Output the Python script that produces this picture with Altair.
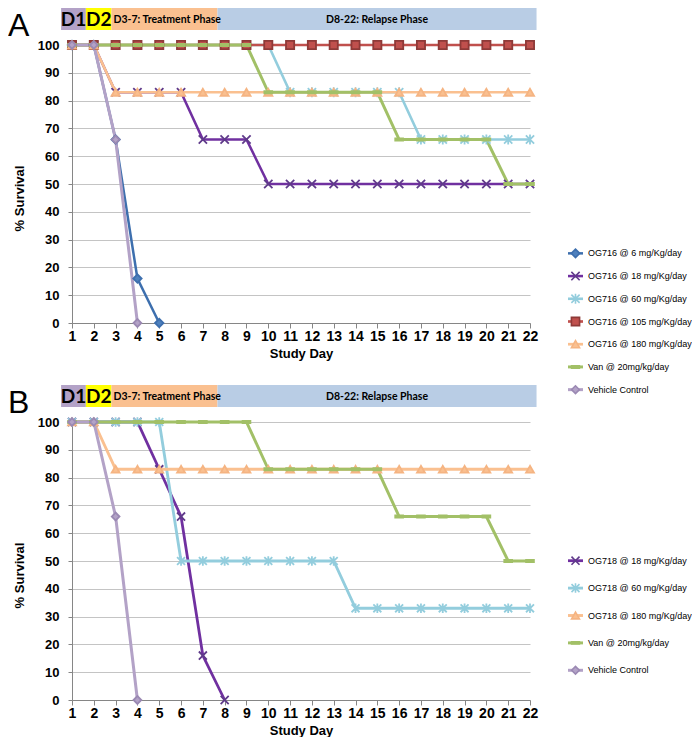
import altair as alt
import pandas as pd

# ---------------- data ----------------
days = [1, 2, 3, 4, 5, 6, 7, 8, 9, 10, 11, 12, 13, 14, 15, 16, 17, 18, 19, 20, 21, 22]

a_names = ["OG716 @ 6 mg/Kg/day", "OG716 @ 18 mg/Kg/day", "OG716 @ 60 mg/Kg/day",
           "OG716 @ 105 mg/Kg/day", "OG716 @ 180 mg/Kg/day", "Van @  20mg/kg/day",
           "Vehicle Control"]
a_6 = [100, 100, 66, 16, 0]
a_18 = [100, 100, 83, 83, 83, 83, 66, 66, 66, 50, 50, 50, 50, 50, 50, 50, 50, 50, 50, 50, 50, 50]
a_60 = [100, 100, 100, 100, 100, 100, 100, 100, 100, 100, 83, 83, 83, 83, 83, 83, 66, 66, 66, 66, 66, 66]
a_105 = [100, 100, 100, 100, 100, 100, 100, 100, 100, 100, 100, 100, 100, 100, 100, 100, 100, 100, 100, 100, 100, 100]
a_180 = [100, 100, 83, 83, 83, 83, 83, 83, 83, 83, 83, 83, 83, 83, 83, 83, 83, 83, 83, 83, 83, 83]
a_van = [100, 100, 100, 100, 100, 100, 100, 100, 100, 83, 83, 83, 83, 83, 83, 66, 66, 66, 66, 66, 50, 50]
a_veh = [100, 100, 66, 0]

b_names = ["OG718 @ 18 mg/Kg/day", "OG718 @ 60 mg/Kg/day", "OG718 @ 180 mg/Kg/day",
           "Van @  20mg/kg/day", "Vehicle Control"]
b_18 = [100, 100, 100, 100, 83, 66, 16, 0]
b_60 = [100, 100, 100, 100, 100, 50, 50, 50, 50, 50, 50, 50, 50, 33, 33, 33, 33, 33, 33, 33, 33, 33]
b_180 = [100, 100, 83, 83, 83, 83, 83, 83, 83, 83, 83, 83, 83, 83, 83, 83, 83, 83, 83, 83, 83, 83]
b_van = [100, 100, 100, 100, 100, 100, 100, 100, 100, 83, 83, 83, 83, 83, 83, 66, 66, 66, 66, 66, 50, 50]
b_veh = [100, 100, 66, 0]

phase_labels = ["D1", "D2", "D3-7: Treatment Phase", "D8-22: Relapse Phase"]
phase_start = [0.5, 1.635, 2.81, 7.67]
phase_end = [1.635, 2.81, 7.67, 22.3]

# ---------------- styles ----------------
style = {
    # name: (line colour, line width, shape, marker fill, marker stroke, marker size)
    "OG716 @ 6 mg/Kg/day": ("#3d6fae", 2.5, "diamond", "#4f81bd", "#3d6fae", 70),
    "OG716 @ 18 mg/Kg/day": ("#7030a0", 3, "M-1,-1L1,1M-1,1L1,-1", "transparent", "#5f3a8a", 60),
    "OG716 @ 60 mg/Kg/day": ("#93cddd", 3, "M-1,-1L1,1M-1,1L1,-1M0,-1.2L0,1.2", "transparent", "#93cddd", 64),
    "OG716 @ 105 mg/Kg/day": ("#c0504d", 1.5, "square", "#c0504d", "#8e3a38", 70),
    "OG716 @ 180 mg/Kg/day": ("#fac090", 3, "triangle-up", "#fac090", "#f5b482", 95),
    "OG718 @ 18 mg/Kg/day": ("#7030a0", 3, "M-1,-1L1,1M-1,1L1,-1", "transparent", "#5f3a8a", 60),
    "OG718 @ 60 mg/Kg/day": ("#93cddd", 3, "M-1,-1L1,1M-1,1L1,-1M0,-1.2L0,1.2", "transparent", "#93cddd", 64),
    "OG718 @ 180 mg/Kg/day": ("#fac090", 3, "triangle-up", "#fac090", "#f5b482", 95),
    "Van @  20mg/kg/day": ("#a2c067", 3, "M-1,-0.3H1V0.3H-1Z", "#a2c067", "#a2c067", 90),
    "Vehicle Control": ("#b3a2c7", 2.5, "diamond", "#b3a2c7", "#9b89b3", 70),
}
phase_colors = ["#b3a2c7", "#ffff00", "#fac090", "#b9cde5"]

all_names = list(style.keys())
color_dom = all_names + phase_labels
color_rng = [style[n][0] for n in all_names] + phase_colors

color_scale = alt.Scale(domain=color_dom, range=color_rng)
sw_scale = alt.Scale(domain=all_names, range=[style[n][1] for n in all_names])
shape_scale = alt.Scale(domain=all_names, range=[style[n][2] for n in all_names])
fill_scale = alt.Scale(domain=all_names, range=[style[n][3] for n in all_names])
stroke_scale = alt.Scale(domain=all_names, range=[style[n][4] for n in all_names])
size_scale = alt.Scale(domain=all_names, range=[style[n][5] for n in all_names])

FONT = "Liberation Sans"
W, H = 458, 278


def make_df(names, lists):
    rows = []
    for k, (n, vals) in enumerate(zip(names, lists)):
        for d, v in zip(days, vals):
            rows.append({"series": n, "k": k, "day": d, "value": v})
    return pd.DataFrame(rows)


x_axis = alt.Axis(values=days, title="Study Day", grid=False, labelFont=FONT, labelFontSize=14,
                  labelFontWeight="bold", labelColor="black", labelPadding=1, labelFlush=False,
                  tickSize=5, tickColor="#868686", domainColor="#868686",
                  titleFont=FONT, titleFontSize=13, titleFontWeight="bold", titleColor="black",
                  titlePadding=4)
y_axis = alt.Axis(values=[0, 10, 20, 30, 40, 50, 60, 70, 80, 90, 100], title="% Survival",
                  grid=True, gridColor="#c4c4c4", gridWidth=1,
                  labelFont=FONT, labelFontSize=13, labelFontWeight="bold", labelColor="black",
                  labelPadding=9, tickSize=4, tickColor="#868686", domainColor="#868686",
                  titleFont=FONT, titleFontSize=13, titleFontWeight="bold", titleColor="black",
                  titleAngle=270, titleX=-53, titleY=153, titleAlign="center", titleBaseline="middle")
x_scale = alt.Scale(domain=[1, 22], nice=False, zero=False)
y_scale = alt.Scale(domain=[0, 100], nice=False)


def panel(letter, names, lists, leg_range):
    df = make_df(names, lists)
    base = alt.Chart(df).encode(
        x=alt.X("day:Q", scale=x_scale, axis=x_axis),
        y=alt.Y("value:Q", scale=y_scale, axis=y_axis),
    )
    lines = base.mark_line().encode(
        color=alt.Color("series:N", scale=color_scale, legend=None),
        strokeWidth=alt.StrokeWidth("series:N", scale=sw_scale, legend=None),
        detail="series:N",
    )
    pts = base.mark_point(filled=True, strokeWidth=1.8, opacity=1).encode(
        shape=alt.Shape("series:N", scale=shape_scale, legend=None),
        fill=alt.Fill("series:N", scale=fill_scale, legend=None),
        stroke=alt.Stroke("series:N", scale=stroke_scale, legend=None),
        size=alt.Size("series:N", scale=size_scale, legend=None),
        order=alt.Order("k:Q"),
    )

    ph = pd.DataFrame({"label": phase_labels, "start": phase_start, "end": phase_end, "i": [0, 1, 2, 3]})
    ph_base = alt.Chart(ph).transform_calculate(mid="(datum.start + datum.end) / 2")
    bars = ph_base.mark_rect().encode(
        x=alt.X("start:Q", scale=x_scale, axis=x_axis), x2="end:Q",
        y=alt.value(-37), y2=alt.value(-15),
        color=alt.Color("label:N", scale=color_scale, legend=None),
    )
    big_txt = ph_base.transform_filter("datum.i < 2").mark_text(
        font="Lato", fontSize=19, fontWeight="bold", baseline="middle", align="center", color="black"
    ).encode(x=alt.X("mid:Q", scale=x_scale, axis=x_axis), y=alt.value(-25), text="label:N")
    t3 = ph_base.transform_filter("datum.i == 2").mark_text(
        font="Lato", fontSize=10.5, fontWeight="bold", baseline="middle", align="left", dx=2, color="black"
    ).encode(x=alt.X("start:Q", scale=x_scale, axis=x_axis), y=alt.value(-25), text="label:N")
    t4 = ph_base.transform_filter("datum.i == 3").mark_text(
        font="Lato", fontSize=10.5, fontWeight="bold", baseline="middle", align="center", color="black"
    ).encode(x=alt.X("mid:Q", scale=x_scale, axis=x_axis), y=alt.value(-25), text="label:N")

    let = alt.Chart(pd.DataFrame({"t": [letter]})).mark_text(
        font=FONT, fontSize=32, align="left", baseline="alphabetic", color="black"
    ).encode(x=alt.value(-64), y=alt.value(-9), text="t:N")

    main = alt.layer(bars, lines, pts, big_txt, t3, t4, let)

    ldf = pd.DataFrame({"series": names})
    leg_y = alt.Y("series:N", scale=alt.Scale(type="point", domain=names, range=leg_range), axis=None)
    lb = alt.Chart(ldf).encode(y=leg_y)
    l_rule = lb.mark_rule().encode(
        x=alt.value(496), x2=alt.value(511),
        color=alt.Color("series:N", scale=color_scale, legend=None),
        strokeWidth=alt.StrokeWidth("series:N", scale=sw_scale, legend=None),
    )
    l_pt = lb.mark_point(filled=True, strokeWidth=1.6, opacity=1).encode(
        x=alt.value(503.5),
        shape=alt.Shape("series:N", scale=shape_scale, legend=None),
        fill=alt.Fill("series:N", scale=fill_scale, legend=None),
        stroke=alt.Stroke("series:N", scale=stroke_scale, legend=None),
        size=alt.Size("series:N", scale=size_scale, legend=None),
    )
    l_txt = lb.mark_text(font=FONT, fontSize=9, align="left", baseline="middle", color="black").encode(
        x=alt.value(516), text="series:N"
    )
    legend = alt.layer(l_rule, l_pt, l_txt)
    return alt.layer(main, legend).resolve_scale(y="independent").properties(width=W, height=H)


pA = panel("A", a_names, [a_6, a_18, a_60, a_105, a_180, a_van, a_veh], [197, 356])
pB = panel("B", b_names, [b_18, b_60, b_180, b_van, b_veh], [125, 262])

chart = alt.vconcat(pA, pB, spacing=99, bounds="flush").properties(padding=0).configure_view(stroke=None)

chart.save("out.html", embed_options={"renderer": "svg", "actions": False})
